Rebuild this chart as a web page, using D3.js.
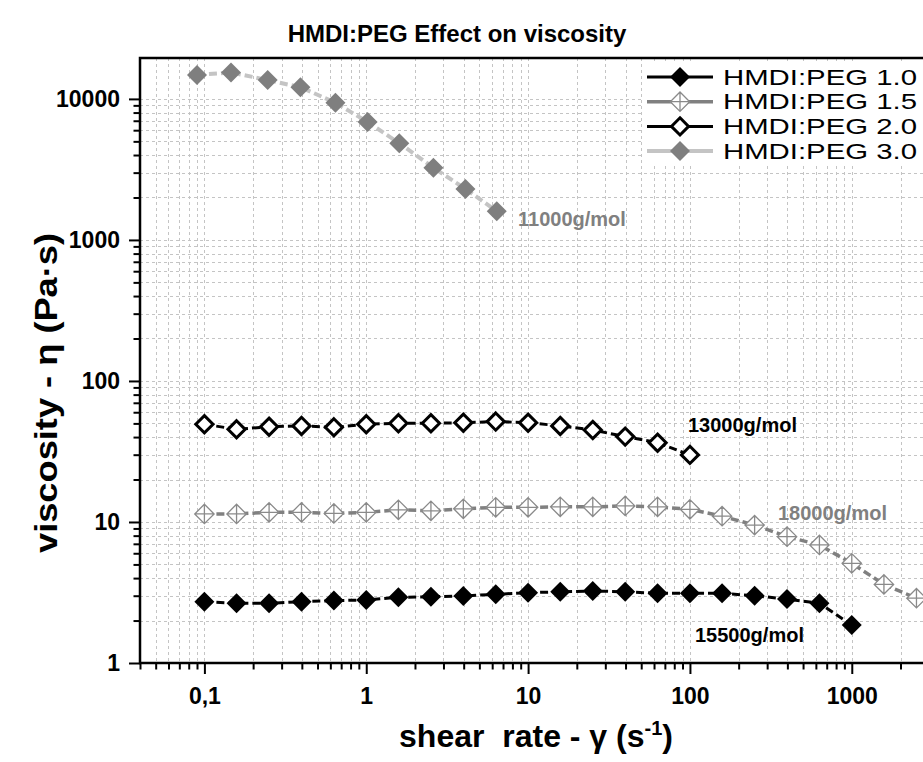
<!DOCTYPE html>
<html>
<head>
<meta charset="utf-8">
<script src="https://cdn.jsdelivr.net/npm/d3@7"></script>
<style>
  body { margin: 0; background: #fff; }
  text { font-family: "Liberation Sans", Arial, sans-serif; white-space: pre; }
</style>
</head>
<body>
<svg id="chart" width="923" height="762"></svg>
<script>
//
// Data
//

// shear rate (1/s) shared by the first three series
var shearRate = [0.1, 0.158, 0.251, 0.398, 0.631, 1, 1.58, 2.51, 3.98, 6.31, 10,
  15.8, 25.1, 39.8, 63.1, 100, 158, 251, 398, 631, 1000, 1580, 2510]
var peg10 = [2.72, 2.65, 2.65, 2.72, 2.77, 2.80, 2.92, 2.95, 2.99, 3.07, 3.15,
  3.20, 3.24, 3.20, 3.12, 3.12, 3.12, 3.00, 2.84, 2.65, 1.86]
var peg15 = [11.4, 11.4, 11.7, 11.7, 11.5, 11.7, 12.2, 12.0, 12.4, 12.7, 12.7,
  12.8, 12.8, 13.0, 12.8, 12.3, 11.0, 9.5, 7.87, 6.87, 5.09, 3.61, 2.88]
var peg20 = [49.3, 45.4, 47.4, 48.0, 46.9, 49.3, 50.1, 50.1, 50.6, 51.5, 50.6,
  48.0, 44.9, 40.3, 36.5, 29.9]
// HMDI:PEG 3.0 was measured at its own shear rates
var shearRate30 = [0.09, 0.146, 0.246, 0.392, 0.645, 1.02, 1.6, 2.6, 4.1, 6.4]
var peg30 = [14800, 15400, 13600, 12100, 9400, 6850, 4850, 3250, 2300, 1600]

var seriesNames = ['HMDI:PEG 1.0', 'HMDI:PEG 1.5', 'HMDI:PEG 2.0', 'HMDI:PEG 3.0']
var molarMass = ['15500g/mol', '18000g/mol', '13000g/mol', '11000g/mol']

var xTickValues = [0.1, 1, 10, 100, 1000]
var xTickLabels = ['0,1', '1', '10', '100', '1000']
var yTickValues = [1, 10, 100, 1000, 10000]
var yTickLabels = ['1', '10', '100', '1000', '10000']

//
// Configuration
//

var width = 923, height = 762
var plotLeft = 140, plotRight = 929, plotTop = 58, plotBottom = 663
var colorGrid = '#c4c4c4'

var series = [
  { name: seriesNames[0], xs: shearRate, ys: peg10, line: '#000', dash: '8,4', lw: 3,
    marker: 'filled', fill: '#000', stroke: 'none', r: 10,
    label: molarMass[0], lx: 695, ly: 642, lc: '#000' },
  { name: seriesNames[1], xs: shearRate, ys: peg15, line: '#808080', dash: '8,4', lw: 3.5,
    marker: 'cross', fill: '#fff', stroke: '#8a8a8a', r: 9.7, sw: 1.3,
    label: molarMass[1], lx: 778, ly: 520, lc: '#808080' },
  { name: seriesNames[2], xs: shearRate, ys: peg20, line: '#000', dash: '8,4', lw: 3,
    marker: 'open', fill: '#fff', stroke: '#000', r: 8.6, sw: 3,
    label: molarMass[2], lx: 688, ly: 432, lc: '#000' },
  { name: seriesNames[3], xs: shearRate30, ys: peg30, line: '#c4c4c4', dash: '8,4', lw: 4,
    marker: 'filled', fill: '#7f7f7f', stroke: 'none', r: 10,
    label: molarMass[3], lx: 518, ly: 226, lc: '#808080' }
]

//
// Scales
//

var svg = d3.select('#chart')
var x = d3.scaleLog().domain([0.04, 3000]).range([plotLeft, plotRight])
var y = d3.scaleLog().domain([1, 19500]).range([plotBottom, plotTop])

function minorTicks(domain) {
  var out = []
  for (var e = -2; e <= 4; e++) {
    for (var k = 1; k <= 9; k++) {
      var v = +(k * Math.pow(10, e)).toPrecision(3)
      if (v >= domain[0] && v <= domain[1]) out.push(v)
    }
  }
  return out
}
var xAll = minorTicks(x.domain())
var yAll = minorTicks(y.domain())

function isMajor(v) { return Math.abs(Math.log10(v) - Math.round(Math.log10(v))) < 1e-6 }

//
// Grid
//

var grid = svg.append('g').attr('stroke', colorGrid).attr('stroke-width', 1)
  .attr('stroke-dasharray', '3,3')
grid.selectAll('.gx').data(xAll.filter(function(v) { return x(v) > plotLeft + 1 })).enter().append('line')
  .attr('x1', function(d) { return Math.round(x(d)) + 0.5 })
  .attr('x2', function(d) { return Math.round(x(d)) + 0.5 })
  .attr('y1', plotTop).attr('y2', plotBottom)
grid.selectAll('.gy').data(yAll.filter(function(v) { return y(v) < plotBottom - 1 })).enter().append('line')
  .attr('y1', function(d) { return Math.round(y(d)) + 0.5 })
  .attr('y2', function(d) { return Math.round(y(d)) + 0.5 })
  .attr('x1', plotLeft).attr('x2', width)

//
// Axes
//

function fmt(vals, labels) {
  return function(v) {
    var i = vals.indexOf(v)
    return i < 0 ? '' : labels[i]
  }
}

var gx = svg.append('g').attr('transform', 'translate(0,' + plotBottom + ')')
  .call(d3.axisBottom(x).tickValues(xAll).tickSize(11).tickSizeOuter(0).tickPadding(14)
    .tickFormat(fmt(xTickValues, xTickLabels)))
var gy = svg.append('g').attr('transform', 'translate(' + plotLeft + ',0)')
  .call(d3.axisLeft(y).tickValues(yAll).tickSize(11).tickSizeOuter(0).tickPadding(9)
    .tickFormat(fmt(yTickValues, yTickLabels)))

gx.selectAll('.tick line').attr('y2', function(d) { return isMajor(d) ? 11 : 6.5 })
gy.selectAll('.tick line').attr('x2', function(d) { return isMajor(d) ? -11 : -6.5 })
svg.selectAll('.tick line').attr('stroke', '#000').attr('stroke-width', 2)
svg.selectAll('.tick text').attr('font-size', 23).attr('font-weight', 'bold')
  .attr('font-family', '"Liberation Sans", Arial, sans-serif').attr('fill', '#000')
svg.selectAll('.domain').remove()

// frame: left, bottom, top
svg.append('path')
  .attr('d', 'M' + width + ',' + plotTop + 'H' + plotLeft + 'V' + plotBottom + 'H' + width)
  .attr('fill', 'none').attr('stroke', '#000').attr('stroke-width', 2.5)

//
// Series
//

function markerPath(type, r) {
  var d = 'M0,' + (-r) + 'L' + r + ',0L0,' + r + 'L' + (-r) + ',0Z'
  if (type === 'cross') d += 'M' + (-r) + ',0H' + r + 'M0,' + (-r) + 'V' + r
  return d
}

var line = d3.line().x(function(d) { return x(d[0]) }).y(function(d) { return y(d[1]) })

series.forEach(function(s) {
  var pts = s.ys.map(function(v, i) { return [s.xs[i], v] })
  svg.append('path').datum(pts).attr('d', line)
    .attr('fill', 'none').attr('stroke', s.line).attr('stroke-width', s.lw)
    .attr('stroke-dasharray', s.dash)
  svg.append('g').selectAll('path').data(pts).enter().append('path')
    .attr('transform', function(d) { return 'translate(' + x(d[0]) + ',' + y(d[1]) + ')' })
    .attr('d', markerPath(s.marker, s.r))
    .attr('fill', s.fill).attr('stroke', s.stroke).attr('stroke-width', s.sw || 0)
  svg.append('text').attr('x', s.lx).attr('y', s.ly).text(s.label)
    .attr('font-size', 20).attr('font-weight', 'bold').attr('fill', s.lc)
})

//
// Legend (white box hides the grid behind it)
//

var legendRows = [77, 101.7, 126.4, 151.1]
var legend = svg.append('g')
legend.append('rect').attr('x', 642).attr('y', 64).attr('width', width - 642).attr('height', 101)
  .attr('fill', '#fff')
series.forEach(function(s, i) {
  var g = legend.append('g').attr('transform', 'translate(0,' + legendRows[i] + ')')
  g.append('line').attr('x1', 647).attr('x2', 713).attr('y1', 0).attr('y2', 0)
    .attr('stroke', s.line).attr('stroke-width', s.lw)
  g.append('path').attr('transform', 'translate(680,0)').attr('d', markerPath(s.marker, s.r))
    .attr('fill', s.fill).attr('stroke', s.stroke).attr('stroke-width', s.sw || 0)
  g.append('text').attr('x', 723).attr('y', 0).attr('dy', '0.36em').text(s.name)
    .attr('font-size', 21.5).attr('textLength', 194).attr('lengthAdjust', 'spacingAndGlyphs')
    .attr('fill', '#000')
})

//
// Titles
//

svg.append('text').attr('x', 457).attr('y', 42).attr('text-anchor', 'middle')
  .attr('font-size', 24).attr('font-weight', 'bold').text('HMDI:PEG Effect on viscosity')

var xt = svg.append('text').attr('x', 536).attr('y', 747).attr('text-anchor', 'middle')
  .attr('font-size', 32).attr('font-weight', 'bold')
xt.append('tspan').text('shear  rate - γ (s')
xt.append('tspan').attr('dy', -12).attr('font-size', 20).text('-1')
xt.append('tspan').attr('dy', 12).text(')')

svg.append('text').attr('transform', 'translate(57,393) rotate(-90)').attr('text-anchor', 'middle')
  .attr('font-size', 32).attr('font-weight', 'bold')
  .attr('textLength', 320).attr('lengthAdjust', 'spacingAndGlyphs')
  .text('viscosity - η (Pa·s)')
</script>
</body>
</html>
